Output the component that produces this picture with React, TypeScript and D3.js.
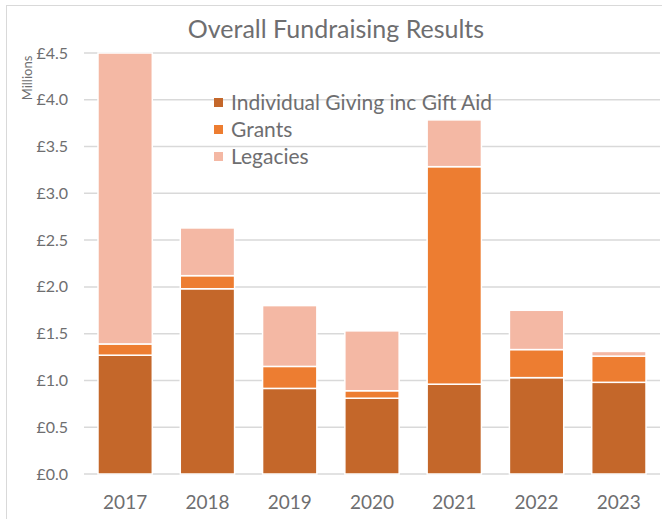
import React, { useEffect, useRef } from "react"
import * as d3 from "d3"

const years = ["2017", "2018", "2019", "2020", "2021", "2022", "2023"]
const individual = [1.27, 1.98, 0.915, 0.81, 0.96, 1.03, 0.98]
const grants = [0.12, 0.14, 0.235, 0.08, 2.325, 0.3, 0.28]
const legacies = [3.11, 0.51, 0.65, 0.64, 0.5, 0.42, 0.05]
const seriesNames = ["Individual Giving inc Gift Aid", "Grants", "Legacies"]
const yTicks = [0, 0.5, 1, 1.5, 2, 2.5, 3, 3.5, 4, 4.5]

const colors = ["#C4672A", "#ED7D31", "#F4B8A4"]
const font = "'Gill Sans', Lato, 'Open Sans', sans-serif"
const textColor = "#6E6E70"

const App = () => {
  const ref = useRef<SVGSVGElement>(null)

  useEffect(() => {
    const svg = d3.select(ref.current)
    svg.selectAll("*").remove()

    const width = 662
    const height = 519
    const margin = { top: 53, right: 2, bottom: 45, left: 84 }

    // frame
    svg.append("rect")
      .attr("x", 6.5).attr("y", 5.5)
      .attr("width", width).attr("height", height)
      .attr("fill", "white").attr("stroke", "#D9D9D9")

    const rows = years.map((y, i) => ({
      year: y,
      individual: individual[i],
      grants: grants[i],
      legacies: legacies[i],
    }))
    const stack = d3.stack<any>().keys(["individual", "grants", "legacies"])(rows)

    const x = d3.scaleBand()
      .domain(years)
      .range([margin.left, width - margin.right])
      .paddingInner(0.34)
      .paddingOuter(0.17)

    const y = d3.scaleLinear()
      .domain([0, 4.5])
      .range([height - margin.bottom, margin.top])

    // gridlines
    svg.append("g")
      .selectAll("line")
      .data(yTicks)
      .enter()
      .append("line")
      .attr("x1", margin.left).attr("x2", width - margin.right)
      .attr("y1", (d) => y(d)).attr("y2", (d) => y(d))
      .attr("stroke", "#D9D9D9").attr("stroke-width", 1.5)

    // y tick labels
    svg.append("g")
      .selectAll("text")
      .data(yTicks)
      .enter()
      .append("text")
      .attr("x", 68)
      .attr("y", (d) => y(d))
      .attr("dy", "0.35em")
      .attr("text-anchor", "end")
      .attr("font-family", font)
      .attr("font-size", 16)
      .attr("fill", textColor)
      .text((d) => "£" + d.toFixed(1))

    svg.append("text")
      .attr("transform", `translate(32,78) rotate(-90)`)
      .attr("text-anchor", "middle")
      .attr("font-family", font)
      .attr("font-size", 13)
      .attr("fill", textColor)
      .text("Millions")

    // bars
    svg.append("g")
      .selectAll("g")
      .data(stack)
      .enter()
      .append("g")
      .attr("fill", (d, i) => colors[i])
      .selectAll("rect")
      .data((d) => d)
      .enter()
      .append("rect")
      .attr("x", (d: any) => x(d.data.year)!)
      .attr("width", x.bandwidth())
      .attr("y", (d) => y(d[1]))
      .attr("height", (d) => y(d[0]) - y(d[1]))
      .attr("stroke", "white")
      .attr("stroke-width", 1.5)

    // x labels
    svg.append("g")
      .selectAll("text")
      .data(years)
      .enter()
      .append("text")
      .attr("x", (d) => x(d)! + x.bandwidth() / 2)
      .attr("y", 509)
      .attr("text-anchor", "middle")
      .attr("font-family", font)
      .attr("font-size", 19)
      .attr("fill", textColor)
      .text((d) => d)

    // title
    svg.append("text")
      .attr("x", 336)
      .attr("y", 38)
      .attr("text-anchor", "middle")
      .attr("font-family", font)
      .attr("font-size", 25)
      .attr("fill", textColor)
      .text("Overall Fundraising Results")

    // legend
    const legend = svg.append("g")
      .selectAll("g")
      .data(seriesNames)
      .enter()
      .append("g")
      .attr("transform", (d, i) => `translate(214,${103 + i * 27})`)
    legend.append("rect")
      .attr("x", 0).attr("y", -5)
      .attr("width", 9).attr("height", 9)
      .attr("fill", (d, i) => colors[i])
    legend.append("text")
      .attr("x", 17)
      .attr("y", 0)
      .attr("dy", "0.35em")
      .attr("font-family", font)
      .attr("font-size", 21)
      .attr("fill", textColor)
      .text((d) => d)
  })

  return (
    <svg
      ref={ref}
      width={662}
      height={519}
      style={{ position: "absolute", left: 0, top: 0 }}
    />
  )
}

export default App
